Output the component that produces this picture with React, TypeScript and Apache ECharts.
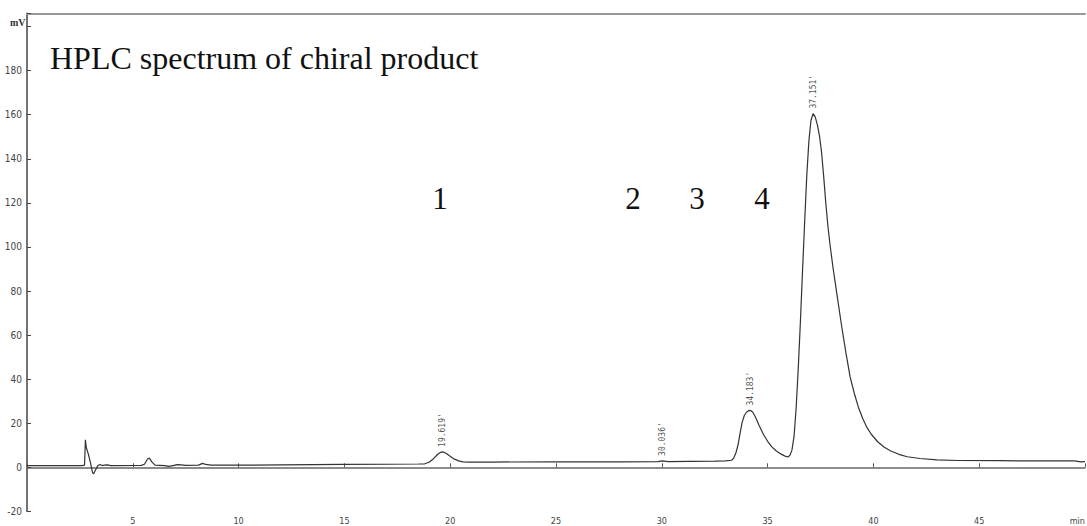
import React, { useEffect, useRef } from "react";
import * as echarts from "echarts";

// Chromatogram trace: [retention time (min), signal (mV)]
const times: number[] = [
  0, 2.6, 2.72, 2.76, 2.8, 2.9, 3.0, 3.1, 3.15, 3.25, 3.35, 3.45, 3.55, 3.65, 3.8, 3.95,
  5.4, 5.55, 5.7, 5.78, 5.9, 6.05, 6.5, 6.7, 6.9, 7.1, 7.3, 7.5, 8.1, 8.3, 8.45, 8.7,
  10, 12, 15, 17, 18.5, 18.8, 19.0, 19.2, 19.4, 19.55, 19.65, 19.8, 20.0, 20.2, 20.4, 20.6, 20.9,
  22, 25, 28, 29.8, 30.04, 30.3, 31.3, 32.5, 33.0, 33.3, 33.4, 33.5, 33.6, 33.7, 33.8, 33.9,
  34.0, 34.1, 34.2, 34.3, 34.4, 34.5, 34.6, 34.8, 35.0, 35.2, 35.4, 35.6, 35.8, 35.95,
  36.05, 36.15, 36.25, 36.35, 36.45, 36.55, 36.65, 36.75, 36.85, 36.95, 37.05, 37.15,
  37.25, 37.35, 37.45, 37.55, 37.65, 37.75, 37.85, 37.95, 38.1, 38.3, 38.5, 38.7, 38.9,
  39.1, 39.3, 39.5, 39.7, 39.9, 40.2, 40.5, 40.8, 41.2, 41.6, 42.2, 43.0, 44.0, 46.0,
  48.0, 49.5, 49.8, 50,
];
const signal: number[] = [
  0.8, 0.8, 1.0, 12.5, 9, 6, 2, -2.5, -2.9, -1, 0.8, 1.3, 0.8, 1.0, 1.1, 0.8,
  0.9, 1.4, 3.8, 4.2, 2.5, 1.0, 0.8, 0.4, 0.8, 1.2, 1.1, 0.9, 1.0, 1.8, 1.3, 1.0,
  1.0, 1.1, 1.3, 1.4, 1.5, 1.6, 2.3, 3.8, 5.8, 6.8, 7.0, 6.4, 5.0, 3.7, 2.9, 2.5, 2.4,
  2.4, 2.5, 2.5, 2.6, 2.9, 2.6, 2.7, 2.8, 2.9, 3.2, 4.2, 6.5, 10, 15.5, 20.5, 23.5,
  25.0, 25.7, 25.8, 25.0, 23.3, 21.2, 19.0, 15.0, 11.8, 9.3, 7.5, 6.2, 5.2, 4.7,
  5.4, 7.8, 14, 27, 45, 66, 89, 111, 132, 148, 157.5, 160.5,
  159, 155.5, 150.5, 143, 132, 120, 109.5, 101, 90, 77, 64, 52, 41,
  33.5, 27, 22, 18, 15, 11.6, 9.2, 7.5, 5.9, 4.8, 4.0, 3.4, 3.1, 3.0,
  2.9, 2.9, 2.5, 2.6,
];

// Peak retention time labels
const peakTimes: number[] = [19.619, 30.036, 34.183, 37.151];
const peakHeights: number[] = [7.0, 2.9, 25.8, 160.5];
const peakLabels: string[] = ["19.619'", "30.036'", "34.183'", "37.151'"];

// Peak numbers written above the trace
const peakNumbers: string[] = ["1", "2", "3", "4"];

const yTicks: number[] = [-20, 0, 20, 40, 60, 80, 100, 120, 140, 160, 180];

const title = "HPLC spectrum of chiral product";

export default function App() {
  const ref = useRef<HTMLDivElement>(null);
  useEffect(() => {
    if (!ref.current) return;
    const chart = echarts.init(ref.current, undefined, { renderer: "svg" });
    const trace = times.map((t, i) => [t, signal[i]]);
    const peaks = peakTimes.map((t, i) => ({ value: [t, peakHeights[i]], name: peakLabels[i] }));
    const numX = [440, 633, 697, 762];
    const labelFont = "'Liberation Sans Narrow', 'DejaVu Sans Condensed', 'Liberation Sans', sans-serif";
    chart.setOption({
      animation: false,
      backgroundColor: "#ffffff",
      grid: {
        left: 27,
        right: 2,
        top: 13.3,
        bottom: 14.6,
        containLabel: false,
        outerBoundsMode: "none",
      },
      xAxis: [
        {
          type: "value",
          min: 0,
          max: 50,
          interval: 5,
          offset: 3.6,
          axisLine: { show: true, lineStyle: { color: "#666", width: 1.5 } },
          axisTick: { show: true, inside: true, length: 4, lineStyle: { color: "#555" } },
          axisLabel: {
            show: true,
            margin: 1.5,
            fontSize: 9,
            lineHeight: 9,
            color: "#444",
            fontFamily: labelFont,
            alignMaxLabel: "right",
            formatter: (v: number) => (v === 0 ? "" : v === 50 ? "min" : String(v)),
          },
          splitLine: { show: false },
        },
        {
          type: "value",
          position: "top",
          min: 0,
          max: 50,
          axisLine: { show: true, lineStyle: { color: "#999", width: 2 } },
          axisTick: { show: false },
          axisLabel: { show: false },
          splitLine: { show: false },
        },
      ],
      yAxis: {
        type: "value",
        min: -20,
        max: 206,
        interval: 20,
        axisLine: { show: true, lineStyle: { color: "#444", width: 1.5 } },
        axisTick: { show: true, inside: true, length: 4, lineStyle: { color: "#444" } },
        axisLabel: {
          show: true,
          margin: 5,
          fontSize: 10,
          color: "#444",
          fontFamily: labelFont,
          formatter: (v: number) => (yTicks.indexOf(v) >= 0 ? String(v) : ""),
        },
        splitLine: { show: false },
      },
      series: [
        {
          type: "line",
          data: trace,
          showSymbol: false,
          symbol: "none",
          lineStyle: { color: "#333", width: 1.2 },
          silent: true,
        },
        {
          type: "scatter",
          data: peaks,
          symbolSize: 0,
          silent: true,
          label: {
            show: true,
            position: "top",
            distance: 5,
            rotate: 90,
            align: "left",
            verticalAlign: "middle",
            formatter: (p: any) => p.name,
            fontSize: 8,
            color: "#222",
            fontFamily: "'DejaVu Sans Mono', 'Liberation Mono', monospace",
          },
        },
      ],
      graphic: [
        {
          type: "text",
          left: 10,
          top: 17,
          style: { text: "mV", font: "bold 10px 'Liberation Serif', serif", fill: "#333" },
        },
        {
          type: "text",
          x: 50,
          y: 41.5,
          style: {
            text: title,
            font: "32px 'Liberation Serif', 'Times New Roman', serif",
            fill: "#111",
            verticalAlign: "top",
          },
        },
        ...peakNumbers.map((n, i) => ({
          type: "text",
          x: numX[i],
          y: 182.5,
          style: {
            text: n,
            font: "31px 'Liberation Serif', 'Times New Roman', serif",
            fill: "#111",
            align: "center",
            verticalAlign: "top",
          },
        })),
      ],
    });
    return () => chart.dispose();
  }, []);
  return (
    <div
      ref={ref}
      style={{ position: "fixed", left: 0, top: 0, width: 1087, height: 526, background: "#fff" }}
    />
  );
}
